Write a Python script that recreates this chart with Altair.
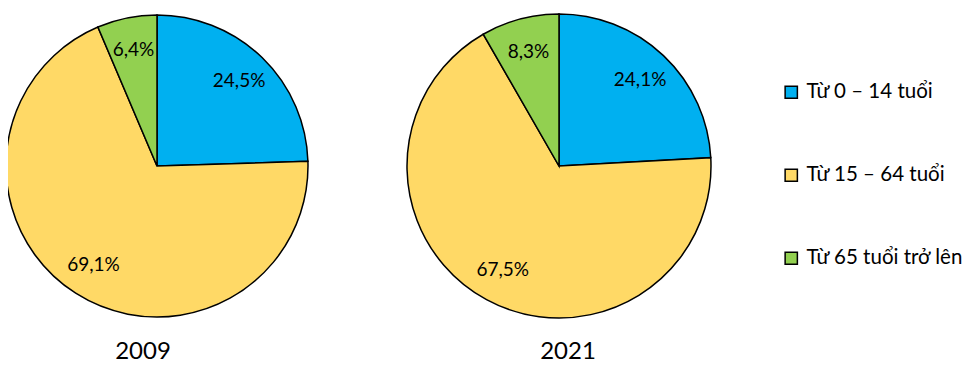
import altair as alt
import pandas as pd

years = ["2009", "2021"]
categories = ["Từ 0 – 14 tuổi", "Từ 15 – 64 tuổi", "Từ 65 tuổi trở lên"]
values_2009 = [24.5, 69.1, 6.4]
values_2021 = [24.1, 67.5, 8.3]
colors = ["#00B0F0", "#FFD966", "#92D050"]

FONT = "Lato"

rows = []
for y, vals in zip(years, [values_2009, values_2021]):
    for i, (c, v) in enumerate(zip(categories, vals)):
        rows.append(dict(year=y, cat=c, value=v, order=i,
                         label=f"{v:.1f}%".replace(".", ",")))
df = pd.DataFrame(rows)
ydf = pd.DataFrame({"year": years})

color = alt.Color(
    "cat:N",
    scale=alt.Scale(domain=categories, range=colors),
    legend=alt.Legend(
        title=None, orient="none", legendX=773, legendY=74,
        symbolType="square", symbolSize=150, symbolStrokeColor="black",
        symbolStrokeWidth=1.5, labelFontSize=20.5, labelFont=FONT,
        labelColor="black", rowPadding=62, labelOffset=5,
    ),
)

layers = []
centers = {"2009": (149, 158, 151), "2021": (551, 158, 152)}
for yr in years:
    cx, cy, r = centers[yr]
    base = alt.Chart(df).transform_filter(alt.datum.year == yr)
    arc = base.mark_arc(radius=r, stroke="black", strokeWidth=1.5).encode(
        theta=alt.Theta("value:Q", stack=True),
        color=color,
        order=alt.Order("order:Q"),
        x=alt.value(cx), y=alt.value(cy),
    )
    txt = base.mark_text(radius=118, fontSize=19, font=FONT, color="black").encode(
        theta=alt.Theta("value:Q", stack=True),
        detail="cat:N",
        text="label:N",
        order=alt.Order("order:Q"),
        x=alt.value(cx), y=alt.value(cy),
    )
    layers += [arc, txt]

year_x = {"2009": 135, "2021": 560}
for yr in years:
    t = alt.Chart(ydf).transform_filter(alt.datum.year == yr).mark_text(
        fontSize=24, font=FONT, color="black"
    ).encode(text="year:N", x=alt.value(year_x[yr]), y=alt.value(344))
    layers.append(t)

chart = alt.layer(*layers).resolve_scale(theta="independent").properties(
    width=957, height=357, padding=0, autosize=alt.AutoSizeParams(type="none")
).configure_view(stroke=None)

chart.save("out.html", embed_options={"renderer": "svg", "actions": False})
